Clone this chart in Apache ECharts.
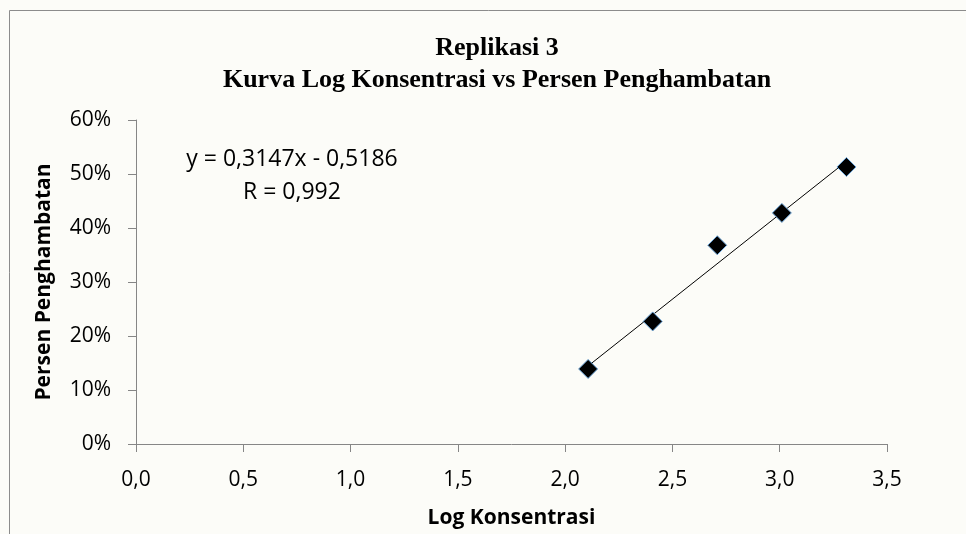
<!DOCTYPE html>
<html>
<head>
<meta charset="utf-8">
<script src="https://cdn.jsdelivr.net/npm/echarts@6/dist/echarts.min.js"></script>
<style>
  html, body { margin: 0; padding: 0; background: #fcfcf8; }
  #chart { width: 966px; height: 534px; }
</style>
</head>
<body>
<div id="chart"></div>
<script>
// Replikasi 3: log konsentrasi vs persen penghambatan.

const logKonsentrasi = [2.107, 2.408, 2.709, 3.010, 3.311];
const persenHambat = [0.139, 0.227, 0.368, 0.428, 0.513];
// garis tren (ujung-ujungnya)
const trendX = [2.107, 3.311];
const trendY = [0.1445, 0.5234];
const eqLines = ["y = 0,3147x - 0,5186", "R = 0,992"];

const AXIS = "#868686";
const LABEL_FONT = "'Open Sans', 'Noto Sans', sans-serif";

const chart = echarts.init(document.getElementById("chart"));

chart.setOption({
  backgroundColor: "#fcfcf8",
  animation: false,
  title: [
    {
      text: "Replikasi 3\nKurva Log Konsentrasi vs Persen Penghambatan",
      left: 492,
      top: 27,
      textAlign: "center",
      textStyle: {
        fontFamily: "'Liberation Serif', serif",
        fontWeight: "bold",
        fontSize: 26,
        lineHeight: 32,
        color: "#000",
      },
    },
    {
      text: eqLines.join("\n"),
      left: 287,
      top: 138,
      textAlign: "center",
      textStyle: {
        fontFamily: LABEL_FONT,
        fontWeight: "normal",
        fontSize: 23,
        lineHeight: 33,
        color: "#000",
      },
    },
  ],
  graphic: [
    {
      type: "rect",
      shape: { x: 9.5, y: 10.5, width: 1000, height: 600 },
      style: { fill: "none", stroke: "#8c8c8c", lineWidth: 1 },
      silent: true,
    },
  ],
  grid: { left: 136, right: 79, top: 120, bottom: 90, outerBoundsMode: "none", containLabel: false },
  xAxis: {
    type: "value",
    min: 0,
    max: 3.5,
    interval: 0.5,
    name: "Log Konsentrasi",
    nameLocation: "middle",
    nameGap: 64,
    nameTextStyle: { fontFamily: LABEL_FONT, fontWeight: "bold", fontSize: 21, color: "#000" },
    axisLine: { lineStyle: { color: AXIS, width: 1 } },
    axisTick: { show: true, length: 8, lineStyle: { color: AXIS } },
    axisLabel: {
      fontFamily: LABEL_FONT,
      fontSize: 21,
      color: "#000",
      margin: 26,
      formatter: (v) => v.toFixed(1).replace(".", ","),
    },
    splitLine: { show: false },
  },
  yAxis: {
    type: "value",
    min: 0,
    max: 0.6,
    interval: 0.1,
    name: "Persen Penghambatan",
    nameLocation: "middle",
    nameGap: 81,
    nameTextStyle: { fontFamily: LABEL_FONT, fontWeight: "bold", fontSize: 21, color: "#000" },
    axisLine: { show: true, lineStyle: { color: AXIS, width: 1 } },
    axisTick: { show: true, length: 8, lineStyle: { color: AXIS } },
    axisLabel: {
      fontFamily: LABEL_FONT,
      fontSize: 21,
      color: "#000",
      margin: 25,
      formatter: (v) => Math.round(v * 100) + "%",
    },
    splitLine: { show: false },
  },
  series: [
    {
      name: "Tren",
      type: "line",
      data: trendX.map((x, i) => [x, trendY[i]]),
      showSymbol: false,
      lineStyle: { color: "#000", width: 1 },
      z: 2,
    },
    {
      name: "Data",
      type: "scatter",
      data: logKonsentrasi.map((x, i) => [x, persenHambat[i]]),
      symbol: "diamond",
      symbolSize: [19, 19],
      itemStyle: { color: "#000", borderColor: "#6fa8dc", borderWidth: 1, opacity: 1 },
      z: 3,
    },
  ],
});
</script>
</body>
</html>
